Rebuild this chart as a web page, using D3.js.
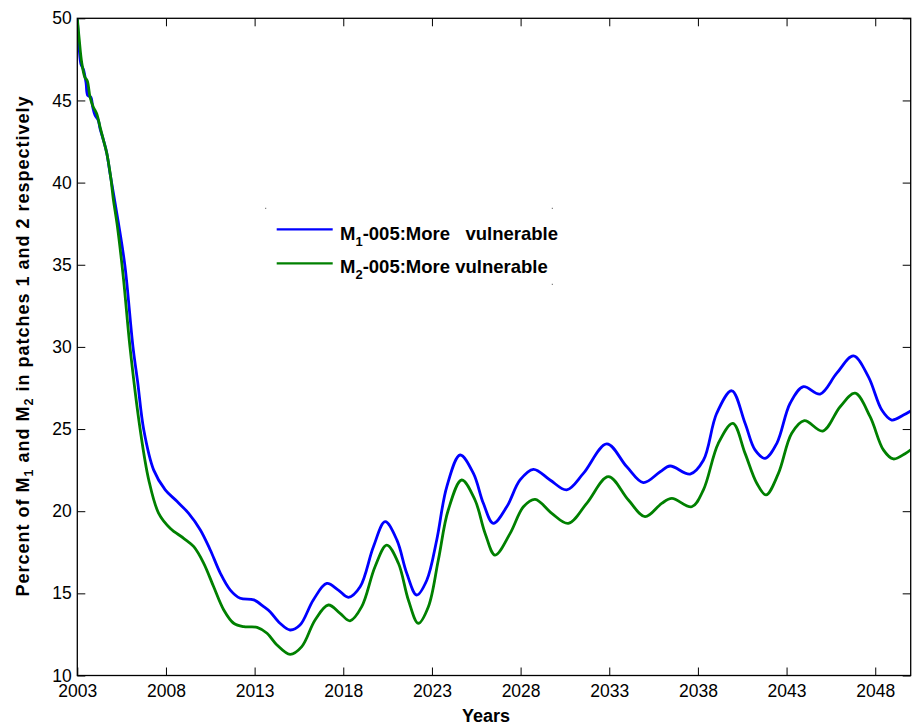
<!DOCTYPE html>
<html>
<head>
<meta charset="utf-8">
<script src="https://cdn.jsdelivr.net/npm/d3@7"></script>
<style>
  html, body { margin: 0; padding: 0; background: #fff; }
  svg { display: block; font-family: "Liberation Sans", Arial, sans-serif; }
  .pre { white-space: pre; }
</style>
</head>
<body>
<svg id="chart" width="912" height="727"></svg>
<script>
// Time axis (years) shared by both series, sampled per series
const m1Years = [2003.00, 2003.11, 2003.21, 2003.34, 2003.49, 2003.59, 2003.76, 2003.87, 2004.00, 2004.18,
  2004.28, 2004.47, 2004.66, 2004.84, 2005.03, 2005.31, 2005.69, 2006.14, 2006.40, 2006.75,
  2007.31, 2007.96, 2008.62, 2009.28, 2009.94, 2010.50, 2011.07, 2011.63, 2012.19, 2012.95,
  2013.51, 2013.87, 2014.43, 2015.00, 2015.56, 2016.31, 2017.07, 2017.72, 2018.29, 2018.95,
  2019.70, 2020.36, 2021.02, 2021.58, 2022.14, 2022.71, 2023.27, 2023.84, 2024.59, 2025.34,
  2025.90, 2026.46, 2027.22, 2027.97, 2028.72, 2029.66, 2030.60, 2031.54, 2032.86, 2033.99,
  2034.92, 2035.87, 2036.43, 2037.56, 2038.31, 2039.06, 2039.91, 2040.66, 2041.22, 2041.79,
  2042.45, 2043.20, 2043.95, 2044.89, 2045.83, 2046.77, 2047.61, 2048.37, 2048.93, 2049.59, 2050.00];
const m1Values = [50, 48.1, 47.2, 46.9, 46.1, 45.3, 45.2, 44.6, 44.1, 43.8,
  43.3, 42.6, 41.8, 40.6, 39.4, 37.6, 34.9, 30.0, 27.9, 24.94,
  22.5, 21.3, 20.6, 19.87, 18.86, 17.64, 16.22, 15.2, 14.7, 14.6,
  14.19, 13.88, 13.18, 12.77, 13.07, 14.6, 15.6, 15.2, 14.76, 15.4,
  17.84, 19.36, 18.25, 16.22, 14.9, 15.8, 18.25, 21.5, 23.42, 22.3,
  20.48, 19.26, 20.27, 21.9, 22.55, 21.9, 21.3, 22.3, 24.1, 22.7,
  21.74, 22.4, 22.75, 22.26, 23.1, 25.96, 27.33, 25.35, 23.73, 23.22,
  24.13, 26.57, 27.58, 27.13, 28.4, 29.45, 28.19, 26.16, 25.55, 25.85, 26.1];

const m2Years = [2003.00, 2003.11, 2003.25, 2003.43, 2003.56, 2003.72, 2003.90, 2004.09, 2004.28, 2004.47,
  2004.66, 2004.90, 2005.03, 2005.24, 2005.59, 2005.97, 2006.55, 2007.03, 2007.59, 2008.25,
  2009.00, 2009.57, 2010.13, 2010.69, 2011.26, 2011.82, 2012.39, 2013.14, 2013.70, 2014.26,
  2015.00, 2015.66, 2016.41, 2017.16, 2017.82, 2018.38, 2019.04, 2019.79, 2020.45, 2021.11,
  2021.67, 2022.23, 2022.80, 2023.36, 2023.92, 2024.68, 2025.43, 2026.00, 2026.56, 2027.41,
  2028.16, 2028.82, 2029.76, 2030.69, 2031.73, 2032.95, 2034.08, 2035.02, 2035.96, 2036.53,
  2037.65, 2038.31, 2039.15, 2039.97, 2040.66, 2041.32, 2041.84, 2042.54, 2043.29, 2044.00,
  2045.04, 2046.02, 2046.86, 2047.71, 2048.46, 2049.02, 2049.68, 2050.00];
const m2Values = [50, 48.7, 47.3, 46.4, 46.2, 45.2, 44.6, 44.2, 43.4, 42.6,
  41.8, 40.2, 39.0, 37.5, 34.3, 30.0, 24.94, 21.9, 19.87, 18.95,
  18.35, 17.84, 16.83, 15.4, 13.99, 13.18, 12.97, 12.93, 12.57, 11.86,
  11.29, 11.76, 13.38, 14.29, 13.78, 13.33, 14.19, 16.62, 17.94, 16.83,
  14.6, 13.18, 14.19, 17.03, 20.07, 21.9, 20.68, 18.65, 17.33, 18.65,
  20.27, 20.72, 19.87, 19.26, 20.48, 22.1, 20.68, 19.67, 20.48, 20.78,
  20.27, 21.3, 24.13, 25.35, 23.52, 21.7, 20.99, 22.3, 24.74, 25.51,
  24.88, 26.36, 27.18, 25.75, 23.73, 23.18, 23.5, 23.74];

const xTicks = [2003, 2008, 2013, 2018, 2023, 2028, 2033, 2038, 2043, 2048];
const yTicks = [10, 15, 20, 25, 30, 35, 40, 45, 50];

const seriesNames = ["-005:More   vulnerable", "-005:More vulnerable"];
const seriesColors = ["#0000ff", "#008000"];

const svg = d3.select("#chart");
const margin = { left: 77.3, top: 18.3, right: 912 - 910.7, bottom: 727 - 675.5 };
const W = 912 - margin.left - margin.right;
const H = 727 - margin.top - margin.bottom;

const x = d3.scaleLinear().domain([2003, 2050]).range([0, W]);
const y = d3.scaleLinear().domain([10, 50]).range([H, 0]);

const g = svg.append("g").attr("transform", `translate(${margin.left},${margin.top})`);

g.append("clipPath").attr("id", "plotClip")
  .append("rect").attr("x", 0).attr("y", -2).attr("width", W).attr("height", H + 2);

const tickLen = 8;
const fontSize = 17.5;

// Bottom axis with labels, inward ticks
const xAxis = g.append("g").attr("transform", `translate(0,${H})`)
  .call(d3.axisBottom(x).tickValues(xTicks).tickFormat(d3.format("d"))
    .tickSizeInner(-tickLen).tickSizeOuter(0).tickPadding(9.5));
// Left axis with labels
const yAxis = g.append("g")
  .call(d3.axisLeft(y).tickValues(yTicks).tickFormat(d3.format("d"))
    .tickSizeInner(-tickLen).tickSizeOuter(0).tickPadding(5.6));
// Top and right mirror ticks
const xTop = g.append("g")
  .call(d3.axisTop(x).tickValues(xTicks).tickFormat("").tickSizeInner(-tickLen).tickSizeOuter(0));
const yRight = g.append("g").attr("transform", `translate(${W},0)`)
  .call(d3.axisRight(y).tickValues(yTicks).tickFormat("").tickSizeInner(-tickLen).tickSizeOuter(0));

[xAxis, yAxis, xTop, yRight].forEach(a => {
  a.select(".domain").remove();
  a.selectAll("line").attr("stroke", "#000").attr("stroke-width", 1);
  a.selectAll("text").attr("fill", "#000").style("font-size", fontSize + "px")
    .style("font-family", '"Liberation Sans", Arial, sans-serif');
});

// Series lines
const line = d3.line()
  .x(d => x(d[0]))
  .y(d => y(d[1]))
  .curve(d3.curveCatmullRom.alpha(0.5));

const series = [
  d3.zip(m1Years, m1Values),
  d3.zip(m2Years, m2Values)
];

const plot = g.append("g").attr("clip-path", "url(#plotClip)");
series.forEach((s, i) => {
  plot.append("path")
    .datum(s)
    .attr("fill", "none")
    .attr("stroke", seriesColors[i])
    .attr("stroke-width", 2.8)
    .attr("stroke-linejoin", "round")
    .attr("d", line);
});

// Axes box
g.append("rect")
  .attr("x", 0).attr("y", 0).attr("width", W).attr("height", H)
  .attr("fill", "none").attr("stroke", "#000").attr("stroke-width", 1.3);

// Axis titles
svg.append("text")
  .attr("x", 486).attr("y", 721.5)
  .attr("text-anchor", "middle")
  .style("font-size", "18px").style("font-weight", "bold")
  .text("Years");

const yTitle = svg.append("text")
  .attr("transform", "translate(29,346) rotate(-90)")
  .attr("text-anchor", "middle")
  .style("font-size", "18px").style("font-weight", "bold")
  .style("letter-spacing", "1px");
yTitle.append("tspan").text("Percent of M");
yTitle.append("tspan").attr("dy", 4).style("font-size", "12.5px").text("1");
yTitle.append("tspan").attr("dy", -4).text(" and M");
yTitle.append("tspan").attr("dy", 4).style("font-size", "12.5px").text("2");
yTitle.append("tspan").attr("dy", -4).text(" in patches 1 and 2 respectively");

// Legend
const legend = svg.append("g");
const legendRows = [
  { lineY: 229.3, textY: 240, sub: "1" },
  { lineY: 263.3, textY: 273.3, sub: "2" }
];
legendRows.forEach((r, i) => {
  legend.append("line")
    .attr("x1", 276.7).attr("x2", 332.7)
    .attr("y1", r.lineY).attr("y2", r.lineY)
    .attr("stroke", seriesColors[i]).attr("stroke-width", 2.2);
  const t = legend.append("text")
    .attr("x", 340).attr("y", r.textY)
    .attr("class", "pre")
    .style("font-size", "18.5px").style("font-weight", "bold");
  t.append("tspan").text("M");
  t.append("tspan").attr("dy", 5.5).style("font-size", "13px").text(r.sub);
  t.append("tspan").attr("dy", -5.5).text(seriesNames[i]);
});
// Legend frame corner marks
[[265.7, 208.3], [552.3, 208.3], [552.3, 284.3]].forEach(p => {
  legend.append("rect").attr("x", p[0] - 0.5).attr("y", p[1] - 0.5)
    .attr("width", 1).attr("height", 1).attr("fill", "#444");
});
</script>
</body>
</html>
